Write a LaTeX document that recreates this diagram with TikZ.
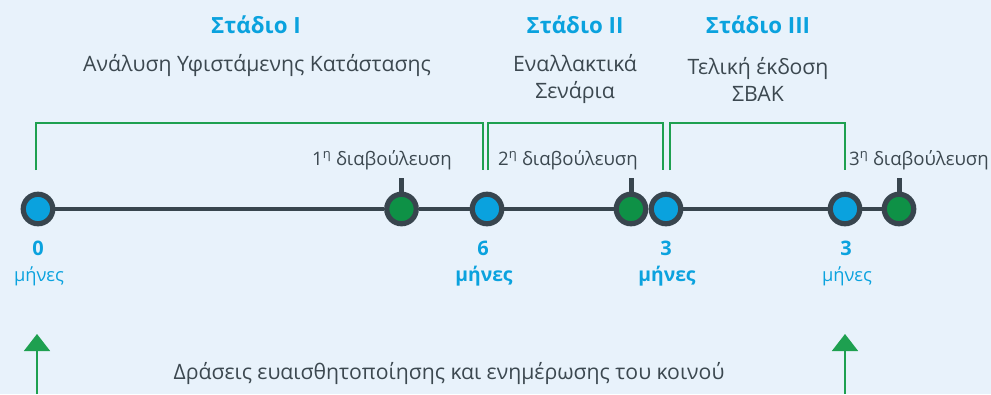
\documentclass[tikz,border=0pt]{standalone}
\usepackage{fontspec}
\setmainfont{Open Sans}
\usetikzlibrary{arrows.meta}
\definecolor{bgc}{RGB}{232,242,251}
\definecolor{tblue}{RGB}{10,162,222}
\definecolor{dgreen}{RGB}{14,145,70}
\definecolor{lgreen}{RGB}{30,160,80}
\definecolor{dark}{RGB}{56,69,78}
\definecolor{gtext}{RGB}{60,72,80}
\tikzset{
  stage/.style={font=\fontsize{22.3}{26}\selectfont\bfseries, text=tblue, inner sep=0},
  desc/.style={font=\fontsize{21.2}{27}\selectfont, text=gtext, align=center, inner sep=0},
  consult/.style={font=\fontsize{18.6}{22}\selectfont, text=gtext, inner sep=0},
  num/.style={font=\fontsize{20}{24}\selectfont\bfseries, text=tblue, inner sep=0},
  monthr/.style={font=\fontsize{18.3}{22}\selectfont, text=tblue, inner sep=0},
  monthb/.style={font=\fontsize{19.3}{23}\selectfont\bfseries, text=tblue, inner sep=0},
  bluept/.style={circle, draw=dark, line width=5.2pt, fill=tblue, minimum size=29.5pt, inner sep=0},
  greenpt/.style={circle, draw=dark, line width=5.2pt, fill=dgreen, minimum size=29.5pt, inner sep=0},
  axis/.style={draw=dark, line width=4.8pt},
  tick/.style={draw=dark, line width=5pt},
  bracket/.style={draw=lgreen, line width=1.2pt},
  uparrow/.style={draw=lgreen, line width=1.5pt, -{Triangle[width=26pt,length=17pt,fill=lgreen]}},
}
\begin{document}
\begin{tikzpicture}[x=1pt,y=-1pt]
\fill[bgc] (0,0) rectangle (991,394);
\useasboundingbox (0,0) rectangle (991,394);

% titles
\node[stage] (s1) at (256,25) {Στάδιο I};
\node[stage] (s2) at (575,25) {Στάδιο II};
\node[stage] (s3) at (758,25) {Στάδιο III};
\node[desc] (d1) at (257,65) {Ανάλυση Υφιστάμενης Κατάστασης};
\node[desc] (d2) at (575,79) {Εναλλακτικά\\Σενάρια};
\node[desc] (d3) at (758,79) {Τελική έκδοση\\ΣΒΑΚ};

% brackets
\coordinate (b1a) at (36,170); \coordinate (b1b) at (483,170);
\coordinate (b2a) at (488,170); \coordinate (b2b) at (663,170);
\coordinate (b3a) at (670,170); \coordinate (b3b) at (845,170);
\draw[bracket] (b1a) |- (260,123) -| (b1b);
\draw[bracket] (b2a) |- (575,123) -| (b2b);
\draw[bracket] (b3a) |- (758,123) -| (b3b);

% timeline
\node[bluept] (c0) at (38,209) {};
\node[greenpt] (g1) at (401.5,209) {};
\node[bluept] (c6) at (487,209) {};
\node[greenpt] (g2) at (631,209) {};
\node[bluept] (c3a) at (666,209) {};
\node[bluept] (c3b) at (845,209) {};
\node[greenpt] (g3) at (899,209) {};
\draw[axis] (c0) -- (g1);
\draw[axis] (g1) -- (c6);
\draw[axis] (c6) -- (g2);
\draw[axis] (c3a) -- (c3b);
\draw[axis] (c3b) -- (g3);

% ticks
\coordinate (t1) at (401.5,178);
\coordinate (t2) at (631,178);
\coordinate (t3) at (899,178);
\draw[tick] (g1.north) -- (t1);
\draw[tick] (g2.north) -- (t2);
\draw[tick] (g3.north) -- (t3);

% consultations
\node[consult] (k1) at (382,160) {1\textsuperscript{η} διαβούλευση};
\node[consult] (k2) at (568,160) {2\textsuperscript{η} διαβούλευση};
\node[consult] (k3) at (919,160) {3\textsuperscript{η} διαβούλευση};

% numbers
\node[num] (n0) at (38,248) {0};
\node[monthr] (m0) at (39,276) {μήνες};
\node[num] (n6) at (483,248) {6};
\node[monthb] (m6) at (484,276) {μήνες};
\node[num] (n3a) at (666,248) {3};
\node[monthb] (m3a) at (667,276) {μήνες};
\node[num] (n3b) at (846,248) {3};
\node[monthr] (m3b) at (847,276) {μήνες};

% arrows
\coordinate (a1b) at (37,394); \coordinate (a1t) at (37,334);
\coordinate (a2b) at (845,394); \coordinate (a2t) at (845,334);
\draw[uparrow] (a1b) -- (a1t);
\draw[uparrow] (a2b) -- (a2t);
\node[desc] (act) at (449,373) {Δράσεις ευαισθητοποίησης και ενημέρωσης του κοινού};
\end{tikzpicture}
\end{document}
